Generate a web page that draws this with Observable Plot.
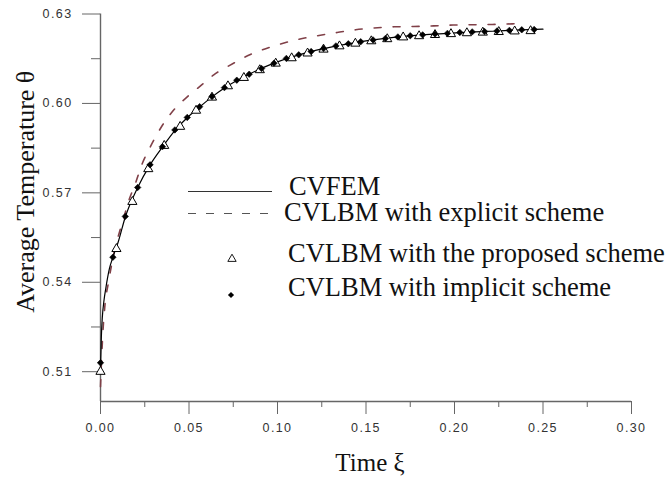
<!DOCTYPE html>
<html><head><meta charset="utf-8">
<script src="https://cdn.jsdelivr.net/npm/d3@7"></script>
<script src="https://cdn.jsdelivr.net/npm/@observablehq/plot@0.6"></script>
<style>
body{margin:0;background:#fff;}
#wrap{position:relative;width:671px;height:488px;}
#wrap svg.ov{position:absolute;left:0;top:0;pointer-events:none;}
g[aria-label="x-axis tick label"] text, g[aria-label="y-axis tick label"] text{letter-spacing:1.4px;}
</style></head><body><div id="wrap"></div>
<script>
// Tick values
const xTicks = [0, 0.05, 0.10, 0.15, 0.20, 0.25, 0.30];
const xMinor = [0.025, 0.075, 0.125, 0.175, 0.225, 0.275];
const yTicks = [0.51, 0.54, 0.57, 0.60, 0.63];
const yMinor = [0.525, 0.555, 0.585, 0.615];

// CVFEM (solid line)
const femX = [0, 0.0005, 0.001, 0.002, 0.003, 0.005, 0.007, 0.01, 0.014, 0.021, 0.028, 0.035, 0.042, 0.049, 0.056, 0.063, 0.07, 0.084, 0.098, 0.112, 0.126, 0.14, 0.154, 0.168, 0.182, 0.196, 0.21, 0.224, 0.238, 0.25];
const femY = [0.511, 0.522, 0.528, 0.534, 0.538, 0.5445, 0.5484, 0.5535, 0.5619, 0.5718, 0.5794, 0.5854, 0.5909, 0.5952, 0.5988, 0.6022, 0.6052, 0.6098, 0.6135, 0.6163, 0.6184, 0.6200, 0.6213, 0.6223, 0.6230, 0.6235, 0.6240, 0.6243, 0.6247, 0.6249];

// CVLBM with explicit scheme (dashed)
const expX = [0, 0.0006, 0.0013, 0.0024, 0.0047, 0.0075, 0.0107, 0.0132, 0.016, 0.0198, 0.0235, 0.0282, 0.0367, 0.0424, 0.049, 0.0565, 0.064, 0.0725, 0.085, 0.0998, 0.1111, 0.1224, 0.1337, 0.1441, 0.1544, 0.1657, 0.177, 0.1883, 0.1992, 0.21, 0.2213, 0.2326, 0.24];
const expY = [0.505, 0.514, 0.5227, 0.5316, 0.5406, 0.5495, 0.5568, 0.5618, 0.5674, 0.5733, 0.5797, 0.5855, 0.5942, 0.5985, 0.6022, 0.6059, 0.6096, 0.6126, 0.6165, 0.6196, 0.6214, 0.6227, 0.6238, 0.6247, 0.6253, 0.6257, 0.6258, 0.6260, 0.6263, 0.6264, 0.6265, 0.6267, 0.6268];

// CVLBM with the proposed scheme (open triangles)
const propX = [0, 0.009, 0.018, 0.027, 0.036, 0.045, 0.054, 0.063, 0.072, 0.081, 0.090, 0.099, 0.108, 0.117, 0.126, 0.135, 0.144, 0.153, 0.162, 0.171, 0.180, 0.189, 0.198, 0.207, 0.216, 0.225, 0.234, 0.243];
const propY = [0.510, 0.5512, 0.5670, 0.5780, 0.5858, 0.5922, 0.5976, 0.6020, 0.6058, 0.6086, 0.6112, 0.6134, 0.6152, 0.6168, 0.6181, 0.6192, 0.6201, 0.6209, 0.6216, 0.6222, 0.6226, 0.6230, 0.6233, 0.6236, 0.6238, 0.6240, 0.6242, 0.6243];

// CVLBM with implicit scheme (filled diamonds)
const impX = [0, 0.007, 0.014, 0.021, 0.028, 0.035, 0.042, 0.049, 0.056, 0.063, 0.070, 0.077, 0.084, 0.091, 0.098, 0.105, 0.112, 0.119, 0.126, 0.133, 0.140, 0.147, 0.154, 0.161, 0.168, 0.175, 0.182, 0.189, 0.196, 0.203, 0.210, 0.217, 0.224, 0.231, 0.238, 0.245];
const impY = [0.513, 0.5484, 0.5621, 0.5718, 0.5794, 0.5855, 0.5911, 0.5953, 0.5989, 0.6023, 0.6053, 0.6078, 0.6098, 0.6117, 0.6135, 0.6151, 0.6163, 0.6174, 0.6184, 0.6193, 0.6200, 0.6207, 0.6213, 0.6218, 0.6223, 0.6227, 0.6230, 0.6233, 0.6235, 0.6238, 0.6240, 0.6241, 0.6243, 0.6245, 0.6247, 0.6248];

const legendLabels = ["CVFEM", "CVLBM with explicit scheme", "CVLBM with the proposed scheme", "CVLBM with implicit scheme"];
const xTitle = "Time ξ";
const yTitle = "Average Temperature θ";

const zip = (xs, ys) => xs.map((x, i) => ({x, y: ys[i]}));
const fem = zip(femX, femY), exp = zip(expX, expY), prop = zip(propX, propY), imp = zip(impX, impY);

const sans = "'Liberation Sans', Arial, sans-serif";
const serif = "'Liberation Serif', 'Times New Roman', serif";
const axisColor = "#666";

const plot = Plot.plot({
  width: 671, height: 488,
  marginLeft: 100, marginRight: 40, marginTop: 13.5, marginBottom: 87,
  x: {domain: [0, 0.3]},
  y: {domain: [0.5, 0.63]},
  style: {background: "#fff", overflow: "visible"},
  marks: [
    Plot.axisX({ticks: xTicks, tickSize: 13, tickPadding: 9, tickFormat: ".2f", fontSize: 12.5, fontFamily: sans, color: "#333", stroke: axisColor, label: null}),
    Plot.axisX({ticks: xMinor, tickSize: 6, text: null, stroke: axisColor, label: null}),
    Plot.axisY({ticks: yTicks, tickSize: 18, tickPadding: 10, tickFormat: ".2f", fontSize: 12.5, fontFamily: sans, color: "#333", stroke: axisColor, label: null}),
    Plot.axisY({ticks: yMinor, tickSize: 9, text: null, stroke: axisColor, label: null}),
    Plot.ruleX([0], {stroke: axisColor, strokeWidth: 1.4}),
    Plot.ruleY([0.5], {stroke: axisColor, strokeWidth: 1.4}),
    Plot.line(exp, {x: "x", y: "y", stroke: "#804048", strokeWidth: 1.6, strokeDasharray: "7,12", curve: "monotone-x"}),
    Plot.line(fem, {x: "x", y: "y", stroke: "#000", strokeWidth: 1.2, curve: "monotone-x"}),
    Plot.dot(prop, {x: "x", y: "y", symbol: "triangle", r: 3.4, fill: "#fff", stroke: "#000", strokeWidth: 1}),
    Plot.dot(imp, {x: "x", y: "y", symbol: "diamond2", r: 2.9, fill: "#000", stroke: "#000", strokeWidth: 0.6}),
    Plot.text([xTitle], {text: d => d, frameAnchor: "bottom", textAnchor: "middle", lineAnchor: "middle", dy: 61, dx: 4, fontSize: 25, fontFamily: serif, fill: "#111"}),
    Plot.text([yTitle], {text: d => d, frameAnchor: "left", textAnchor: "middle", lineAnchor: "middle", rotate: -90, dx: -75, dy: -16, fontSize: 26, fontFamily: serif, fill: "#111"})
  ]
});

const wrap = document.getElementById("wrap");
wrap.appendChild(plot);

// Legend overlay
const lg = d3.select(wrap).append("svg").attr("class", "ov").attr("width", 671).attr("height", 488);
lg.append("line").attr("x1", 188).attr("x2", 272).attr("y1", 191.5).attr("y2", 191.5).attr("stroke", "#333").attr("stroke-width", 1);
lg.append("line").attr("x1", 188).attr("x2", 272).attr("y1", 213.5).attr("y2", 213.5).attr("stroke", "#555").attr("stroke-width", 1).attr("stroke-dasharray", "8,10");
lg.append("path").attr("transform", "translate(232,259)").attr("d", d3.symbol(d3.symbolTriangle, 30)()).attr("fill", "#fff").attr("stroke", "#000").attr("stroke-width", 0.9);
lg.append("path").attr("transform", "translate(231,295)").attr("d", d3.symbol(d3.symbolDiamond2, 24)()).attr("fill", "#000");
const rows = [{x: 289, y: 195}, {x: 284, y: 220.5}, {x: 288, y: 261.5}, {x: 288, y: 296}];
lg.selectAll("text.l").data(legendLabels).join("text").attr("class", "l")
  .attr("x", (d, i) => rows[i].x).attr("y", (d, i) => rows[i].y)
  .attr("font-family", serif).attr("font-size", 26.5).attr("fill", "#111").text(d => d);
</script></body></html>
